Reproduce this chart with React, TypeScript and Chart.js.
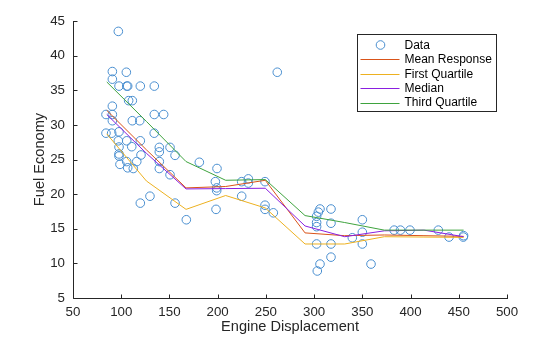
import React, { useEffect, useRef } from "react";
import { Chart, registerables } from "chart.js";

Chart.register(...registerables);

// ---- data ----
const displacement = [
  97.0, 90.8, 105.3, 90.8, 97.7, 105.7, 106.7, 119.8, 134.3, 107.7, 111.5, 90.8,
  84.2, 90.8, 90.8, 111.5, 119.2, 134.3, 144.0, 84.2, 90.1, 97.7, 134.2, 97.0,
  105.7, 119.8, 110.9, 97.7, 97.7, 97.7, 120.5, 98.7, 105.7, 116.1, 106.7, 112.5,
  139.5, 139.5, 150.6, 155.8, 139.5, 139.5, 150.6, 129.8, 119.8, 155.8, 167.5,
  181.0, 199.3, 197.6, 199.0, 199.0, 198.3, 224.9, 231.8, 231.8, 249.1, 224.9,
  249.1, 249.1, 257.7, 261.8, 306.1, 317.5, 304.4, 302.6, 302.6, 302.6, 317.5,
  350.0, 339.6, 350.0, 350.0, 302.6, 317.5, 317.5, 306.1, 303.3, 359.0, 383.0,
  389.5, 399.4, 428.8, 439.9, 454.7, 455.0,
];
const fuelEconomy = [
  43.5, 37.7, 37.6, 36.6, 35.6, 35.6, 35.6, 35.6, 35.6, 33.5, 33.5, 32.7,
  31.5, 31.5, 30.6, 30.6, 30.6, 31.5, 31.5, 28.8, 28.8, 29.0, 28.8, 27.7,
  27.7, 27.7, 26.85, 26.8, 25.8, 25.5, 25.65, 24.3, 24.7, 24.7, 23.8, 23.7,
  26.75, 26.1, 26.75, 25.6, 24.7, 23.7, 22.8, 19.7, 18.7, 18.7, 16.3,
  24.6, 23.7, 21.8, 20.9, 20.5, 17.8, 21.8, 22.2, 21.6, 21.8, 19.7,
  18.4, 17.8, 17.3, 37.6, 17.85, 17.85, 17.4, 16.8, 15.9, 15.3, 15.8,
  16.3, 13.7, 14.5, 12.8, 12.8, 12.8, 10.9, 9.9, 8.9, 9.9, 14.8,
  14.8, 14.8, 14.8, 13.8, 13.8, 14.0,
];

const fitDisplacement = [85, 126.1, 167.2, 208.3, 249.4, 290.6, 331.7, 372.8, 413.9, 455];
const meanResponse = [32.1, 26.4, 20.9, 21.1, 22.0, 14.4, 14.0, 14.1, 14.0, 13.9];
const firstQuartile = [28.7, 21.9, 17.8, 19.8, 18.0, 12.8, 12.8, 13.85, 13.8, 13.75];
const medianLine = [31.5, 25.9, 20.75, 20.8, 20.85, 15.4, 13.85, 14.7, 14.8, 13.85];
const thirdQuartile = [36.2, 30.5, 24.7, 22.0, 22.1, 16.9, 15.9, 14.8, 14.8, 14.8];

const xTicks = [50, 100, 150, 200, 250, 300, 350, 400, 450, 500];
const yTicks = [5, 10, 15, 20, 25, 30, 35, 40, 45];

const seriesLabels = ["Data", "Mean Response", "First Quartile", "Median", "Third Quartile"];
const seriesColors = ["#4a8fd0", "#d95319", "#edb120", "#8a1fe0", "#3ea33e"];

const FONT = '"Liberation Sans", Arial, Helvetica, sans-serif';
const AXIS_COLOR = "#262626";

const axesPlugin = {
  id: "matlabAxes",
  beforeDatasetsDraw(chart: any) {
    const { ctx, chartArea, scales } = chart;
    const tick = 4;
    ctx.save();
    ctx.strokeStyle = AXIS_COLOR;
    ctx.lineWidth = 1;
    ctx.beginPath();
    const l = Math.round(chartArea.left) + 0.5;
    const b = Math.round(chartArea.bottom) + 0.5;
    ctx.moveTo(l, Math.round(chartArea.top));
    ctx.lineTo(l, b);
    ctx.lineTo(Math.round(chartArea.right) + 1, b);
    for (const v of xTicks) {
      const px = Math.round(scales.x.getPixelForValue(v)) + 0.5;
      ctx.moveTo(px, b);
      ctx.lineTo(px, b - tick);
    }
    for (const v of yTicks) {
      const py = Math.round(scales.y.getPixelForValue(v)) + 0.5;
      ctx.moveTo(l, py);
      ctx.lineTo(l + tick, py);
    }
    ctx.stroke();
    ctx.restore();
  },
};

const legendPlugin = {
  id: "boxLegend",
  afterDraw(chart: any) {
    const { ctx, chartArea } = chart;
    const left = Math.round(chartArea.right - 150) + 0.5;
    const top = Math.round(chartArea.top + 13) + 0.5;
    const w = 139;
    const h = 77;
    ctx.save();
    ctx.fillStyle = "#ffffff";
    ctx.fillRect(left, top, w, h);
    ctx.strokeStyle = AXIS_COLOR;
    ctx.lineWidth = 1;
    ctx.strokeRect(left, top, w, h);
    ctx.font = `12px ${FONT}`;
    ctx.textBaseline = "middle";
    ctx.textAlign = "left";
    chart.data.datasets.forEach((ds: any, i: number) => {
      const y = top + 10.5 + i * 14.4;
      if (i === 0) {
        ctx.beginPath();
        ctx.strokeStyle = ds.borderColor;
        ctx.lineWidth = 1;
        ctx.arc(left + 23, y, 4.3, 0, Math.PI * 2);
        ctx.stroke();
      } else {
        ctx.beginPath();
        ctx.strokeStyle = ds.borderColor;
        ctx.lineWidth = 1;
        ctx.moveTo(left + 3, Math.round(y) + 0.5);
        ctx.lineTo(left + 42, Math.round(y) + 0.5);
        ctx.stroke();
      }
      ctx.fillStyle = "#000000";
      ctx.fillText(ds.label, left + 47, y + 0.5);
    });
    ctx.restore();
  },
};

export default function App() {
  const canvasRef = useRef<HTMLCanvasElement | null>(null);

  useEffect(() => {
    if (!canvasRef.current) return;
    const lineDs = (label: string, ys: number[], color: string, order: number) => ({
      type: "line" as const,
      label,
      data: fitDisplacement.map((x, i) => ({ x, y: ys[i] })),
      borderColor: color,
      backgroundColor: color,
      borderWidth: 1,
      pointRadius: 0,
      tension: 0,
      fill: false,
      order,
    });

    const chart = new Chart(canvasRef.current, {
      type: "scatter",
      data: {
        datasets: [
          {
            type: "scatter",
            label: seriesLabels[0],
            data: displacement.map((x, i) => ({ x, y: fuelEconomy[i] })),
            borderColor: seriesColors[0],
            backgroundColor: "rgba(0,0,0,0)",
            borderWidth: 1,
            pointRadius: 4.3,
            pointStyle: "circle",
            order: 5,
          } as any,
          lineDs(seriesLabels[1], meanResponse, seriesColors[1], 4),
          lineDs(seriesLabels[2], firstQuartile, seriesColors[2], 3),
          lineDs(seriesLabels[3], medianLine, seriesColors[3], 2),
          lineDs(seriesLabels[4], thirdQuartile, seriesColors[4], 1),
        ],
      },
      options: {
        responsive: false,
        animation: false,
        events: [],
        layout: { padding: { top: 21, right: 53, bottom: 0, left: 0 } },
        plugins: {
          legend: { display: false },
          tooltip: { enabled: false },
        },
        scales: {
          x: {
            type: "linear",
            min: 50,
            max: 500,
            afterBuildTicks: (s: any) => {
              s.ticks = xTicks.map((v) => ({ value: v }));
            },
            afterFit: (s: any) => {
              s.height = 39;
            },
            grid: { display: false, drawTicks: false },
            border: { display: false },
            ticks: {
              autoSkip: false,
              maxRotation: 0,
              padding: 6,
              color: AXIS_COLOR,
              font: { family: FONT, size: 13.3 },
            },
            title: {
              display: true,
              text: "Engine Displacement",
              color: AXIS_COLOR,
              font: { family: FONT, size: 14.6 },
              padding: { top: 0, bottom: 1 },
            },
          },
          y: {
            type: "linear",
            min: 5,
            max: 45,
            afterBuildTicks: (s: any) => {
              s.ticks = yTicks.map((v) => ({ value: v }));
            },
            afterFit: (s: any) => {
              s.width = 73;
            },
            grid: { display: false, drawTicks: false },
            border: { display: false },
            ticks: {
              autoSkip: false,
              padding: 8,
              color: AXIS_COLOR,
              font: { family: FONT, size: 13.3 },
            },
            title: {
              display: true,
              text: "Fuel Economy",
              color: AXIS_COLOR,
              font: { family: FONT, size: 14.6 },
              padding: { top: 31, bottom: 0 },
            },
          },
        },
      } as any,
      plugins: [axesPlugin, legendPlugin],
    });
    return () => chart.destroy();
  }, []);

  return (
    <div style={{ position: "absolute", left: 0, top: 0, width: 560, height: 337, background: "#fff" }}>
      <canvas ref={canvasRef} width={560} height={337} style={{ display: "block" }} />
    </div>
  );
}
